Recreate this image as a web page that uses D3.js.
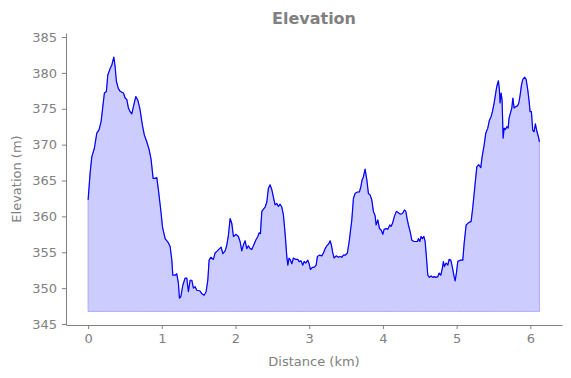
<!DOCTYPE html>
<html>
<head>
<meta charset="utf-8">
<script src="https://cdn.jsdelivr.net/npm/d3@7"></script>
<style>
  body { margin: 0; background: #fff; }
  text { font-family: "DejaVu Sans", sans-serif; }
</style>
</head>
<body>
<script>
// Profil d'altitude, valeurs
const distanceKm = [
  0.000, 0.027, 0.050, 0.085, 0.118, 0.149, 0.176, 0.194, 0.221, 0.248,
  0.267, 0.299, 0.322, 0.349, 0.366, 0.384, 0.411, 0.438, 0.479, 0.502,
  0.525, 0.547, 0.570, 0.593, 0.615, 0.647, 0.674, 0.701, 0.719, 0.737,
  0.764, 0.796, 0.828, 0.855, 0.882, 0.909, 0.932, 0.954, 0.991, 1.008,
  1.014, 1.045, 1.090, 1.113, 1.136, 1.149, 1.180, 1.203, 1.225, 1.239,
  1.258, 1.285, 1.316, 1.339, 1.361, 1.384, 1.407, 1.429, 1.452, 1.475,
  1.520, 1.543, 1.574, 1.601, 1.624, 1.642, 1.665, 1.700, 1.723, 1.754,
  1.782, 1.805, 1.828, 1.859, 1.882, 1.904, 1.927, 1.950, 1.972, 2.008,
  2.039, 2.062, 2.085, 2.107, 2.130, 2.153, 2.175, 2.198, 2.221, 2.243,
  2.276, 2.303, 2.320, 2.338, 2.357, 2.379, 2.402, 2.425, 2.446, 2.469,
  2.493, 2.514, 2.537, 2.560, 2.582, 2.605, 2.628, 2.650, 2.673, 2.696,
  2.710, 2.727, 2.745, 2.764, 2.786, 2.818, 2.845, 2.863, 2.890, 2.913,
  2.931, 2.954, 2.981, 2.999, 3.016, 3.043, 3.066, 3.094, 3.111, 3.138,
  3.171, 3.193, 3.216, 3.239, 3.266, 3.284, 3.301, 3.320, 3.338, 3.365,
  3.396, 3.419, 3.442, 3.464, 3.491, 3.518, 3.545, 3.578, 3.600, 3.623,
  3.654, 3.681, 3.700, 3.718, 3.735, 3.758, 3.782, 3.803, 3.826, 3.849,
  3.871, 3.894, 3.908, 3.931, 3.953, 3.976, 3.999, 4.016, 4.043, 4.066,
  4.094, 4.111, 4.129, 4.156, 4.183, 4.210, 4.237, 4.265, 4.292, 4.311,
  4.328, 4.346, 4.369, 4.392, 4.419, 4.446, 4.468, 4.482, 4.501, 4.518,
  4.536, 4.555, 4.573, 4.590, 4.609, 4.631, 4.654, 4.677, 4.699, 4.722,
  4.745, 4.763, 4.786, 4.807, 4.821, 4.834, 4.858, 4.881, 4.898, 4.921,
  4.943, 4.966, 4.980, 4.997, 5.016, 5.047, 5.084, 5.102, 5.129, 5.160,
  5.197, 5.220, 5.247, 5.274, 5.301, 5.328, 5.346, 5.373, 5.396, 5.423,
  5.445, 5.468, 5.486, 5.509, 5.526, 5.545, 5.567, 5.581, 5.590, 5.604,
  5.617, 5.631, 5.645, 5.662, 5.681, 5.699, 5.712, 5.730, 5.749, 5.763,
  5.780, 5.803, 5.825, 5.844, 5.862, 5.880, 5.898, 5.925, 5.943, 5.966,
  5.984, 5.997, 6.015, 6.033, 6.052, 6.069, 6.088, 6.110, 6.124
];

const elevationM = [
  362.3, 366.0, 368.3, 369.5, 371.6, 372.1, 373.2, 374.8, 377.2, 377.4,
  379.7, 380.6, 381.1, 382.2, 380.9, 378.8, 377.8, 377.4, 377.2, 376.5,
  376.3, 375.1, 374.6, 374.3, 375.3, 376.7, 376.2, 375.1, 373.9, 372.7,
  371.3, 370.4, 369.3, 367.9, 365.3, 365.3, 365.4, 363.7, 360.4, 358.6,
  358.3, 356.9, 356.3, 355.8, 353.9, 351.8, 351.8, 352.0, 350.7, 348.6,
  348.8, 350.4, 351.4, 351.4, 349.5, 351.1, 351.1, 350.0, 350.2, 349.7,
  349.6, 349.2, 349.0, 349.5, 351.1, 353.9, 354.3, 354.0, 354.9, 355.2,
  355.5, 355.7, 354.8, 355.2, 356.0, 357.4, 359.7, 359.0, 357.2, 357.5,
  357.2, 356.5, 355.2, 356.0, 356.6, 355.5, 355.9, 355.5, 355.4, 355.9,
  356.7, 357.2, 357.7, 357.6, 360.7, 361.0, 361.3, 362.0, 363.9, 364.4,
  363.7, 362.7, 361.6, 361.8, 361.4, 361.7, 361.3, 360.2, 357.6, 354.4,
  353.2, 354.2, 353.9, 353.4, 354.2, 354.0, 354.0, 353.7, 353.8, 353.2,
  353.7, 353.5, 353.9, 353.4, 352.6, 352.9, 352.9, 353.2, 354.4, 354.6,
  354.5, 354.9, 355.5, 355.9, 356.2, 356.6, 356.0, 354.9, 354.2, 354.5,
  354.3, 354.4, 354.3, 354.6, 354.6, 354.9, 356.7, 359.5, 362.5, 363.2,
  363.4, 363.4, 364.1, 365.1, 365.5, 366.6, 365.1, 363.2, 363.0, 362.3,
  360.7, 360.1, 358.8, 359.5, 358.3, 358.1, 357.5, 358.2, 358.3, 358.2,
  358.8, 358.6, 359.0, 360.0, 360.7, 360.5, 360.3, 360.4, 360.9, 360.7,
  359.7, 358.8, 357.9, 356.7, 356.5, 356.5, 356.5, 356.9, 356.5, 357.2,
  356.9, 357.2, 356.5, 354.4, 351.8, 351.5, 351.7, 351.5, 351.6, 351.5,
  351.6, 352.1, 351.8, 352.8, 353.7, 353.0, 353.5, 353.2, 354.0, 353.9,
  352.9, 351.6, 351.0, 352.1, 353.7, 353.9, 353.9, 356.2, 358.8, 359.1,
  359.3, 361.3, 364.1, 366.9, 367.2, 366.8, 368.3, 369.9, 371.6, 372.3,
  373.4, 373.9, 374.6, 375.8, 376.9, 378.1, 378.9, 377.6, 375.8, 377.2,
  376.2, 370.9, 372.3, 372.1, 372.5, 372.3, 373.7, 374.4, 375.1, 376.5,
  375.1, 375.3, 375.4, 375.8, 376.9, 378.3, 379.1, 379.4, 379.1, 377.6,
  376.0, 374.6, 374.6, 372.0, 371.8, 372.9, 371.9, 371.1, 370.4
];

const fillBase = 346.75;
const xTicks = [0, 1, 2, 3, 4, 5, 6];
const yTicks = [345, 350, 355, 360, 365, 370, 375, 380, 385];

const WIDTH = 571, HEIGHT = 378;
const grey = '#808080';

const points = distanceKm.map((d, i) => ({km: d, ele: elevationM[i]}));

const svg = d3.select('body')
  .append('svg')
    .attr('width', WIDTH)
    .attr('height', HEIGHT);

// échelles calées sur les bords des axes de l'image
const xScale = d3.scaleLinear()
  .domain([-0.3, 6.43])
  .range([66, 562]);

const yScale = d3.scaleLinear()
  .domain([344.86, 385.56])
  .range([325, 33]);

// zone remplie sous la courbe
const area = d3.area()
  .x(d => xScale(d.km))
  .y0(yScale(fillBase))
  .y1(d => yScale(d.ele));

svg.append('path')
  .datum(points)
  .attr('d', area)
  .attr('fill', 'rgb(204,204,255)')
  .attr('stroke', 'rgb(170,170,255)')
  .attr('stroke-width', 1);

const line = d3.line()
  .x(d => xScale(d.km))
  .y(d => yScale(d.ele));

svg.append('path')
  .datum(points)
  .attr('d', line)
  .attr('fill', 'none')
  .attr('stroke', '#0000ff')
  .attr('stroke-width', 1.2)
  .attr('stroke-linejoin', 'round');

// axes
const xAxis = d3.axisBottom(xScale).tickValues(xTicks).tickFormat(d3.format('d'))
  .tickSize(4).tickPadding(5).tickSizeOuter(0);
const yAxis = d3.axisLeft(yScale).tickValues(yTicks).tickFormat(d3.format('d'))
  .tickSize(4).tickPadding(5).tickSizeOuter(0);

const gx = svg.append('g')
  .attr('transform', 'translate(0,325)')
  .call(xAxis);

const gy = svg.append('g')
  .attr('transform', 'translate(66,0)')
  .call(yAxis);

[gx, gy].forEach(g => {
  g.select('.domain').attr('stroke', grey);
  g.selectAll('.tick line').attr('stroke', grey);
  g.selectAll('.tick text')
    .attr('fill', grey)
    .style('font-size', '13px')
    .style('font-family', '"DejaVu Sans", sans-serif');
});

// titre et libellés
svg.append('text')
  .attr('x', 314)
  .attr('y', 24)
  .attr('text-anchor', 'middle')
  .attr('fill', grey)
  .style('font-size', '16px')
  .style('font-weight', 'bold')
  .text('Elevation');

svg.append('text')
  .attr('x', 314)
  .attr('y', 366)
  .attr('text-anchor', 'middle')
  .attr('fill', grey)
  .style('font-size', '13px')
  .text('Distance (km)');

svg.append('text')
  .attr('transform', 'translate(21,179) rotate(-90)')
  .attr('text-anchor', 'middle')
  .attr('fill', grey)
  .style('font-size', '13px')
  .text('Elevation (m)');
</script>
</body>
</html>
